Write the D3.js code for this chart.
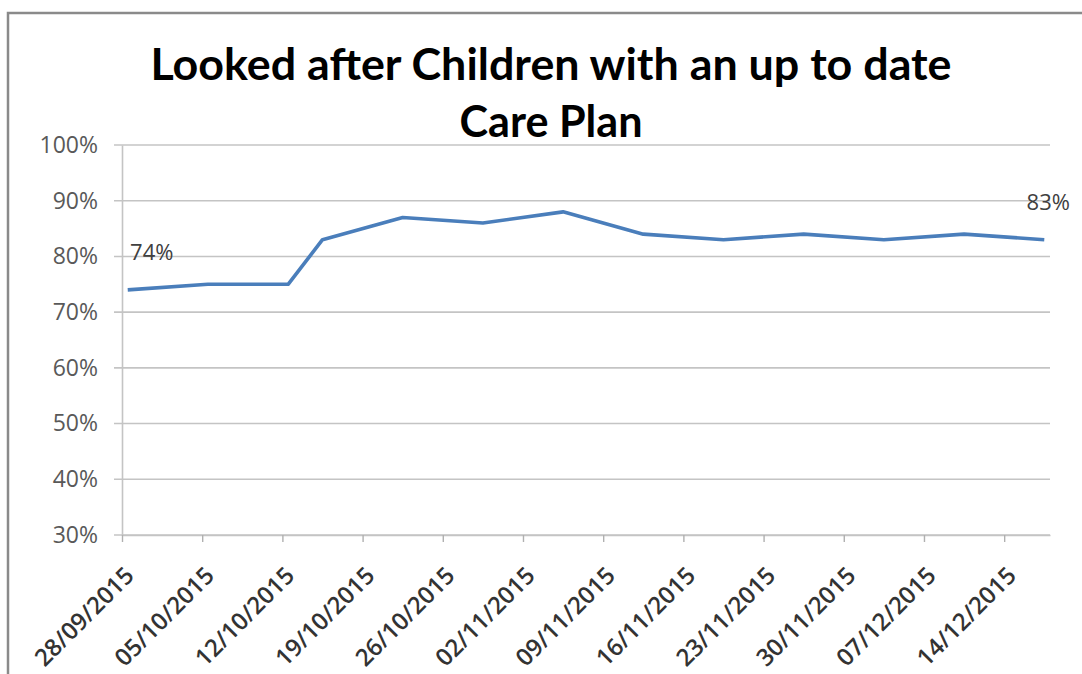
<!DOCTYPE html>
<html>
<head>
<meta charset="utf-8">
<script src="https://cdn.jsdelivr.net/npm/d3@7"></script>
<style>
  body { margin: 0; background: #fff; }
  svg { display: block; }
</style>
</head>
<body>
<div id="chart"></div>
<script>
// chart data
const dates = ['2015-09-28', '2015-10-05', '2015-10-12', '2015-10-15', '2015-10-22', '2015-10-29',
    '2015-11-05', '2015-11-12', '2015-11-19', '2015-11-26', '2015-12-03', '2015-12-10', '2015-12-17'];
const values = [74, 75, 75, 83, 87, 86, 88, 84, 83, 84, 83, 84, 83];
const tickDates = ['2015-09-28', '2015-10-05', '2015-10-12', '2015-10-19', '2015-10-26', '2015-11-02',
    '2015-11-09', '2015-11-16', '2015-11-23', '2015-11-30', '2015-12-07', '2015-12-14'];
const yTicks = [30, 40, 50, 60, 70, 80, 90, 100];
const titleLines = ['Looked after Children with an up to date', 'Care Plan'];
const labelled = [0, values.length - 1];

const width = 1082;
const height = 674;

const parse = d3.utcParse('%Y-%m-%d');
const fmt = d3.utcFormat('%d/%m/%Y');
const data = dates.map((d, i) => ({ date: parse(d), value: values[i] }));

const svg = d3.select('#chart')
    .append('svg')
    .attr('width', width)
    .attr('height', height);

svg.append('rect')
    .attr('width', width)
    .attr('height', height)
    .attr('fill', '#fff');

// outer frame (only left and top visible)
svg.append('path')
    .attr('d', 'M8,700 L8,13 L1090,13')
    .attr('fill', 'none')
    .attr('stroke', '#8a8a8a')
    .attr('stroke-width', 2.5);

const xScale = d3.scaleUtc()
    .domain([parse('2015-09-28'), parse('2015-12-18')])
    .range([122, 1050]);

const yScale = d3.scaleLinear()
    .domain([30, 100])
    .range([535, 145]);

// gridlines
svg.append('g')
    .selectAll('line')
    .data(yTicks)
    .enter()
    .append('line')
    .attr('x1', 114)
    .attr('x2', 1050)
    .attr('y1', d => yScale(d))
    .attr('y2', d => yScale(d))
    .attr('stroke', '#c4c4c4')
    .attr('stroke-width', 1.6);

// y axis
const yAxis = d3.axisLeft(yScale)
    .tickValues(yTicks)
    .tickFormat(d => d + '%')
    .tickSize(0)
    .tickPadding(24);

svg.append('g')
    .attr('transform', 'translate(122,0)')
    .call(yAxis)
    .call(g => g.select('.domain').attr('stroke', '#c4c4c4').attr('stroke-width', 1.6))
    .call(g => g.selectAll('text')
        .attr('font-family', 'Open Sans')
        .attr('font-size', 23)
        .attr('fill', '#595959'));

// x axis
const xAxis = d3.axisBottom(xScale)
    .tickValues(tickDates.map(parse))
    .tickFormat(fmt)
    .tickSizeInner(7)
    .tickSizeOuter(0);

svg.append('g')
    .attr('transform', 'translate(0,535)')
    .call(xAxis)
    .call(g => g.select('.domain').attr('stroke', '#c4c4c4').attr('stroke-width', 1.6))
    .call(g => g.selectAll('.tick line').attr('stroke', '#b0b0b0').attr('stroke-width', 1.4))
    .call(g => g.selectAll('text')
        .attr('font-family', 'Open Sans')
        .attr('font-size', 24)
        .attr('font-weight', 600)
        .attr('fill', '#333')
        .attr('text-anchor', 'end')
        .attr('dy', null)
        .attr('y', 0)
        .attr('transform', 'translate(13,42) rotate(-45)'));

// line
const halfDay = 12 * 3600 * 1000;
const line = d3.line()
    .x(d => xScale(new Date(d.date.getTime() + halfDay)))
    .y(d => yScale(d.value));

svg.append('path')
    .datum(data)
    .attr('fill', 'none')
    .attr('stroke', '#4a7ebb')
    .attr('stroke-width', 3.6)
    .attr('stroke-linejoin', 'round')
    .attr('d', line);

// data labels
svg.append('g')
    .selectAll('text')
    .data(labelled.map(i => data[i]))
    .enter()
    .append('text')
    .attr('x', (d, i) => xScale(new Date(d.date.getTime() + halfDay)) + (i === 0 ? 24 : 4))
    .attr('y', d => yScale(d.value) - 30)
    .attr('text-anchor', 'middle')
    .attr('font-family', 'Open Sans')
    .attr('font-size', 22)
    .attr('fill', '#404040')
    .text(d => d.value + '%');

// title
const titleWidths = [801, 183];
svg.append('g')
    .selectAll('text')
    .data(titleLines)
    .enter()
    .append('text')
    .attr('x', 551)
    .attr('y', (d, i) => 80 + i * 57)
    .attr('text-anchor', 'middle')
    .attr('font-family', 'Lato')
    .attr('font-weight', 'bold')
    .attr('font-size', 43)
    .attr('fill', '#000')
    .attr('textLength', (d, i) => titleWidths[i])
    .attr('lengthAdjust', 'spacingAndGlyphs')
    .text(d => d);
</script>
</body>
</html>
